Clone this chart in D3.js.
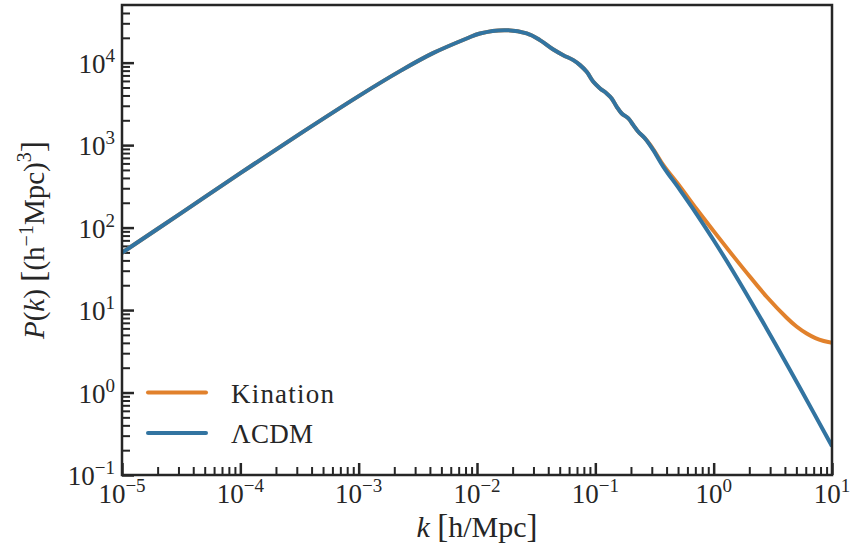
<!DOCTYPE html>
<html>
<head>
<meta charset="utf-8">
<script src="https://cdn.jsdelivr.net/npm/d3@7/dist/d3.min.js"></script>
<style>
  html, body { margin: 0; padding: 0; background: #fff; }
  svg { display: block; }
</style>
</head>
<body>
<svg id="chart" width="854" height="546"></svg>
<script>
// ---- data ----
const kLCDM = [1e-5, 3.16e-5, 1e-4, 3.16e-4, 1e-3, 2.234e-3, 4.246e-3, 8.185e-3, 0.01059, 0.01726,
  0.02630, 0.03404, 0.04416, 0.05358, 0.06516, 0.07430, 0.08453, 0.09616, 0.1096, 0.1247,
  0.1374, 0.1517, 0.1671, 0.1901, 0.2094, 0.2307, 0.2630, 0.3090, 0.3758, 0.5200, 0.7194,
  1.0, 1.455, 2.805, 5.37, 10];
const pLCDM = [49.5, 150, 458, 1360, 3930, 7890, 13030, 19630, 22600, 24770,
  22590, 18750, 14450, 12330, 10720, 9330, 7740, 5850, 4870, 4230,
  3680, 2910, 2420, 2110, 1750, 1450, 1205, 869, 546, 285, 145,
  70.3, 29.6, 5.94, 1.135, 0.223];

const kKination = [1e-5, 3.16e-5, 1e-4, 3.16e-4, 1e-3, 2.234e-3, 4.246e-3, 8.185e-3, 0.01059, 0.01726,
  0.02630, 0.03404, 0.04416, 0.05358, 0.06516, 0.07430, 0.08453, 0.09616, 0.1096, 0.1247,
  0.1374, 0.1517, 0.1671, 0.1901, 0.2094, 0.2307, 0.2630, 0.3090, 0.3758, 0.5200, 0.7194,
  1.0, 1.455, 2.028, 2.805, 4.14, 5.012, 6.11, 7.244, 8.511, 10];
const pKination = [49.5, 150, 458, 1360, 3930, 7890, 13030, 19630, 22600, 24770,
  22590, 18750, 14450, 12330, 10720, 9330, 7740, 5850, 4870, 4230,
  3680, 2910, 2420, 2110, 1750, 1450, 1205, 889, 571, 313, 167,
  90.6, 45.7, 25.3, 14.5, 8.07, 6.31, 5.19, 4.57, 4.22, 4.01];

const xMajor = [1e-5, 1e-4, 1e-3, 1e-2, 1e-1, 1e0, 1e1];
const xMajorExp = ["\u22125", "\u22124", "\u22123", "\u22122", "\u22121", "0", "1"];
const yMajor = [1e-1, 1e0, 1e1, 1e2, 1e3, 1e4];
const yMajorExp = ["\u22121", "0", "1", "2", "3", "4"];

const seriesNames = ["Kination", "\u039BCDM"];
const seriesColors = ["#e1812c", "#3274a1"];

// ---- layout ----
const FONT = "'Liberation Serif', 'Times New Roman', 'DejaVu Serif', serif";
const svg = d3.select("#chart");
const L = 122, R = 832, T = 5, B = 475;
const x = d3.scaleLog().domain([1e-5, 10]).range([L, R]);
const y = d3.scaleLog().domain([0.1, 5e4]).range([B, T]);
const ink = "#262626";

const xMinor = [];
for (let d = -5; d <= 0; d++) for (let m = 2; m <= 9; m++) xMinor.push(m * Math.pow(10, d));
const yMinor = [];
for (let d = -1; d <= 4; d++) for (let m = 2; m <= 9; m++) { const v = m * Math.pow(10, d); if (v < 5e4) yMinor.push(v); }

function styleAxis(g, w) {
  g.select(".domain").remove();
  g.selectAll(".tick line").attr("stroke", ink).attr("stroke-width", w);
  g.selectAll(".tick text").remove();
}

svg.append("g").attr("transform", `translate(0,${B})`)
  .call(d3.axisBottom(x).tickValues(xMinor).tickSize(-8).tickFormat(""))
  .call(g => styleAxis(g, 2));
svg.append("g").attr("transform", `translate(0,${B})`)
  .call(d3.axisBottom(x).tickValues(xMajor).tickSize(-12).tickFormat(""))
  .call(g => styleAxis(g, 2.5));
svg.append("g").attr("transform", `translate(${L},0)`)
  .call(d3.axisLeft(y).tickValues(yMinor).tickSize(-8).tickFormat(""))
  .call(g => styleAxis(g, 2));
svg.append("g").attr("transform", `translate(${L},0)`)
  .call(d3.axisLeft(y).tickValues(yMajor).tickSize(-12).tickFormat(""))
  .call(g => styleAxis(g, 2.5));

function txt(sel) { return sel.append("text").attr("font-family", FONT).attr("fill", ink); }

xMajor.forEach((v, i) => {
  const t = txt(svg).attr("x", x(v)).attr("y", 503).attr("text-anchor", "middle").attr("font-size", 27);
  t.append("tspan").text("10");
  t.append("tspan").attr("dy", -11).attr("font-size", 19).text(xMajorExp[i]);
});
yMajor.forEach((v, i) => {
  const t = txt(svg).attr("x", 115).attr("y", y(v) + 10).attr("text-anchor", "end").attr("font-size", 27);
  t.append("tspan").text("10");
  t.append("tspan").attr("dy", -11).attr("font-size", 19).text(yMajorExp[i]);
});

svg.append("clipPath").attr("id", "clip").append("rect")
  .attr("x", L).attr("y", T).attr("width", R - L).attr("height", B - T);
const line = d3.line().x(d => x(d[0])).y(d => y(d[1])).curve(d3.curveCatmullRom.alpha(0.5));
const seriesData = [d3.zip(kKination, pKination), d3.zip(kLCDM, pLCDM)];
seriesData.forEach((dat, i) => {
  svg.append("path").datum(dat).attr("d", line)
    .attr("fill", "none").attr("stroke", seriesColors[i]).attr("stroke-width", 4)
    .attr("stroke-linejoin", "round").attr("clip-path", "url(#clip)");
});

svg.append("rect").attr("x", L).attr("y", T).attr("width", R - L).attr("height", B - T)
  .attr("fill", "none").attr("stroke", ink).attr("stroke-width", 2.5);

const legY = [392.5, 433];
seriesNames.forEach((n, i) => {
  svg.append("line").attr("x1", 148).attr("x2", 206).attr("y1", legY[i]).attr("y2", legY[i])
    .attr("stroke", seriesColors[i]).attr("stroke-width", 4).attr("stroke-linecap", "round");
  txt(svg).attr("x", 231).attr("y", legY[i] + 10).attr("font-size", 27)
    .attr("letter-spacing", i === 0 ? 1.2 : 0.3).text(n);
});

const xl = txt(svg).attr("x", 477).attr("y", 537).attr("text-anchor", "middle").attr("font-size", 30);
xl.append("tspan").attr("font-style", "italic").text("k");
xl.append("tspan").text(" ");
xl.append("tspan").attr("font-size", 33).text("[");
xl.append("tspan").text("h/Mpc");
xl.append("tspan").attr("font-size", 33).text("]");

const yl = txt(svg).attr("transform", "translate(44,240) rotate(-90)")
  .attr("text-anchor", "middle").attr("font-size", 29);
yl.append("tspan").attr("font-style", "italic").text("P");
yl.append("tspan").text("(");
yl.append("tspan").attr("font-style", "italic").text("k");
yl.append("tspan").text(") ");
yl.append("tspan").attr("font-size", 34).text("[");
yl.append("tspan").text("(h");
yl.append("tspan").attr("dy", -11).attr("font-size", 20).text("\u22121");
yl.append("tspan").attr("dy", 11).text("Mpc)");
yl.append("tspan").attr("dy", -13).attr("font-size", 20).text("3");
yl.append("tspan").attr("dy", 13).attr("font-size", 34).text("]");
</script>
</body>
</html>
